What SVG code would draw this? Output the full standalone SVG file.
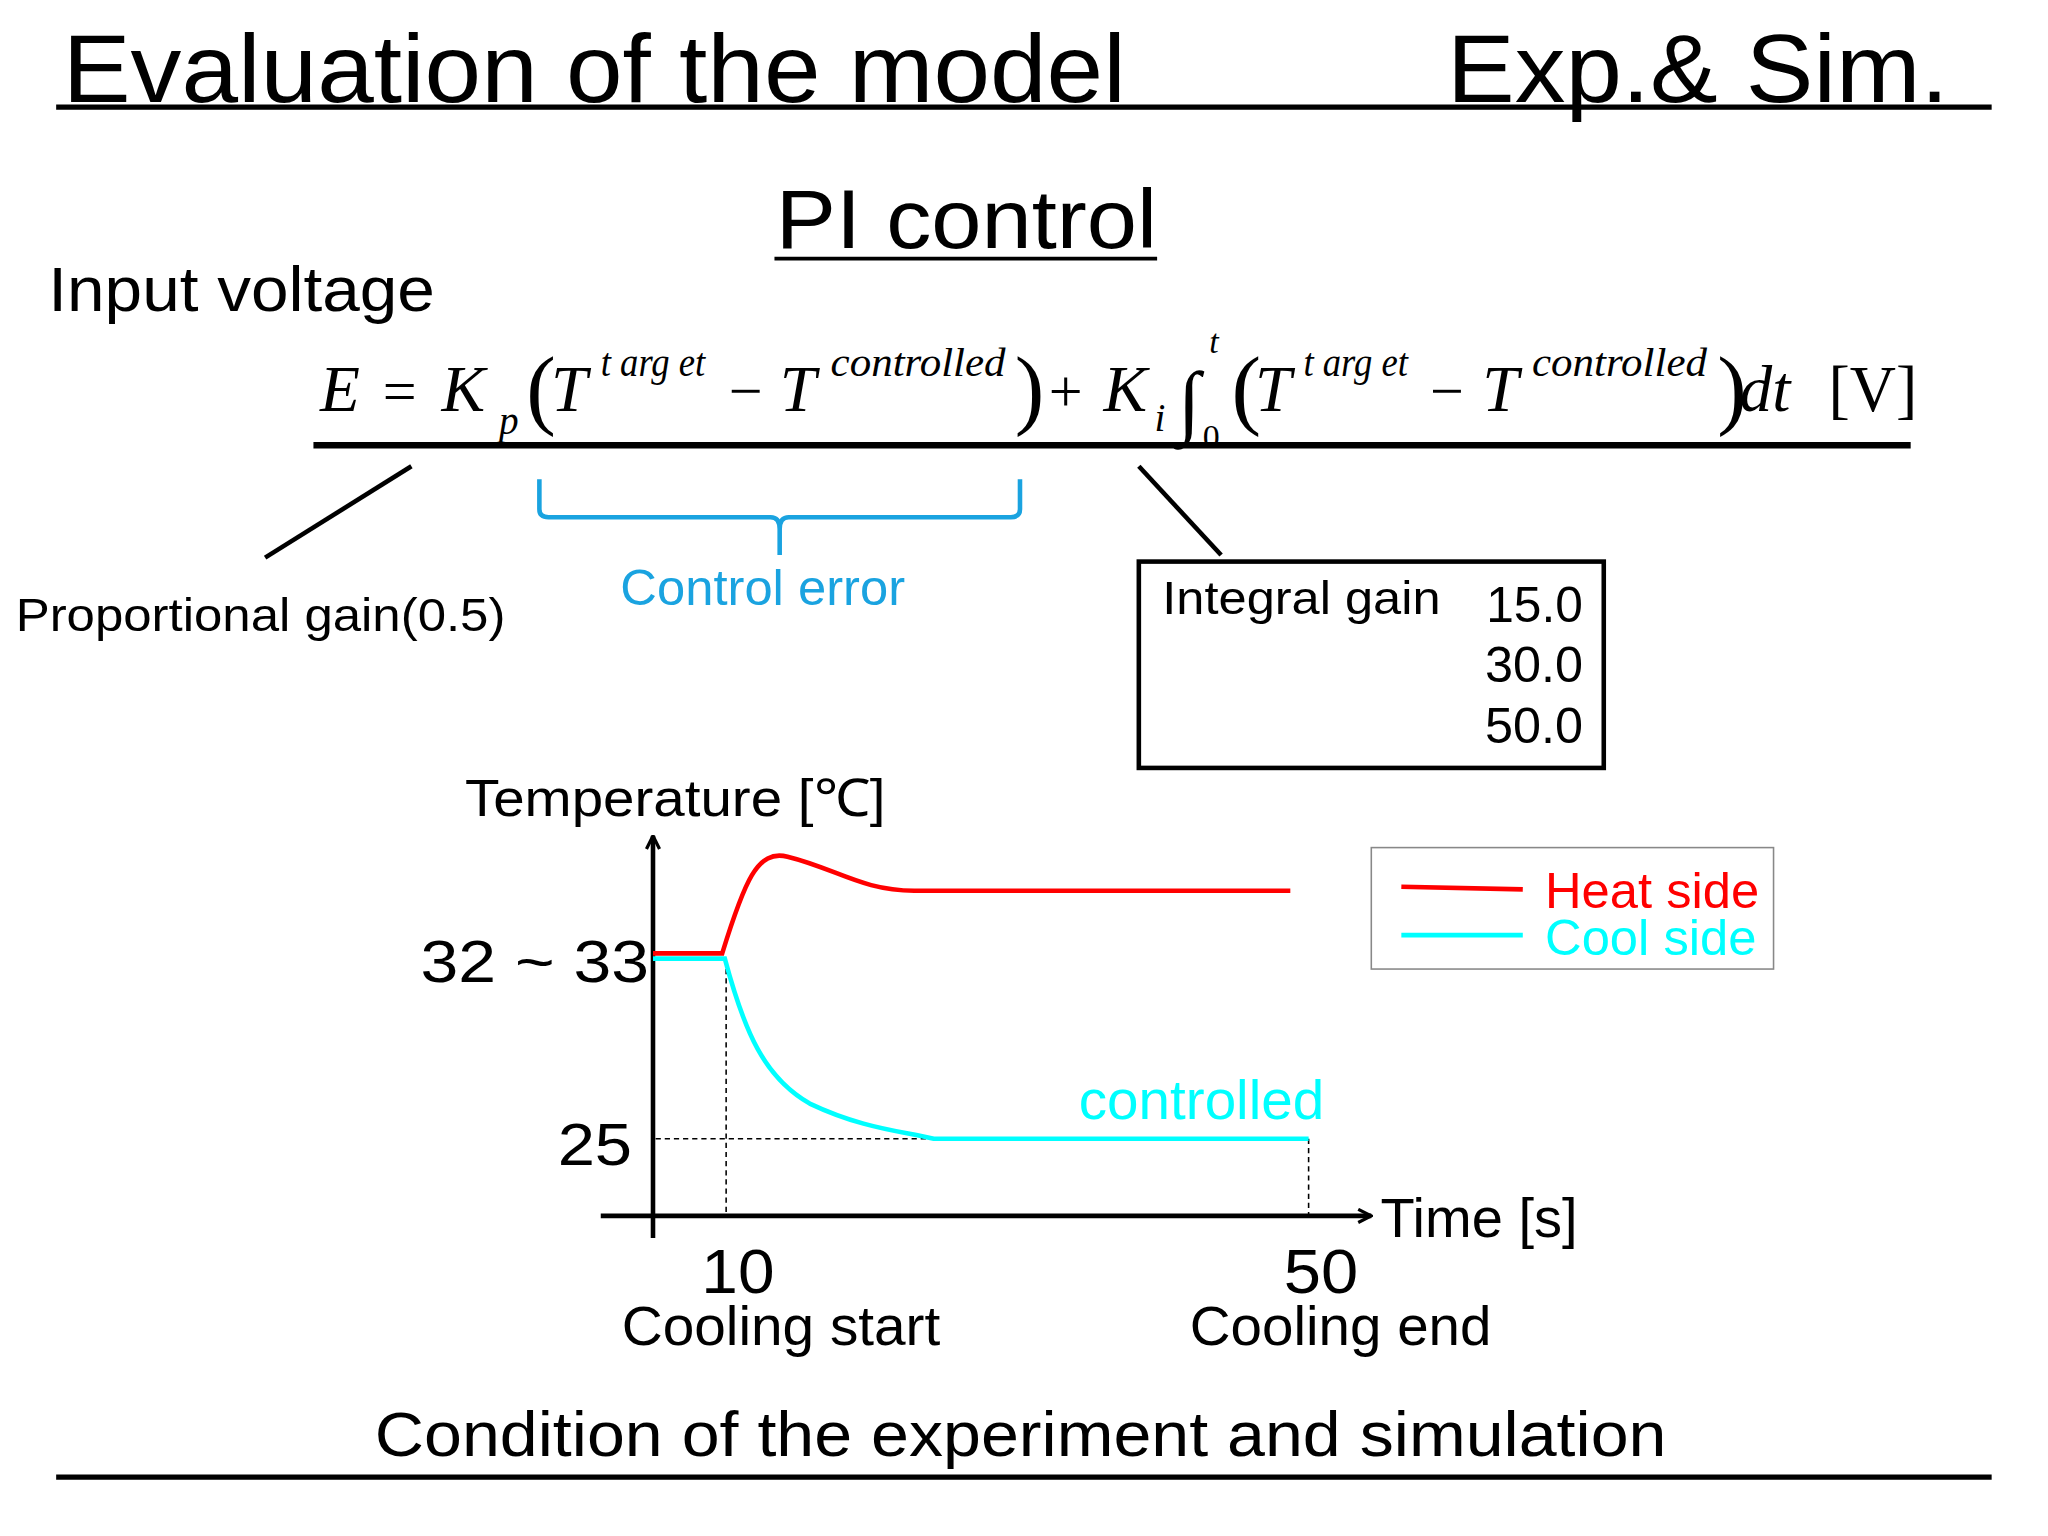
<svg xmlns="http://www.w3.org/2000/svg" width="2048" height="1536" viewBox="0 0 2048 1536">
<style>
.s{font-family:"Liberation Sans",Arial,sans-serif;fill:#000}
.m{font-family:"Liberation Serif","Times New Roman",serif;font-style:italic;fill:#000}
.u{font-family:"Liberation Serif","Times New Roman",serif;fill:#000}
.k{stroke:#000;fill:none}
</style>
<defs>
<marker id="ar" viewBox="0 0 12 12" refX="11" refY="6" markerWidth="12" markerHeight="12" markerUnits="userSpaceOnUse" orient="auto"><path d="M1,1 L11,6 L1,11" fill="none" stroke="#000" stroke-width="2.5"/></marker>
</defs>
<rect width="2048" height="1536" fill="#fff"/>
<g transform="scale(1.306)">
<g id="title">
<text class="s" x="48" y="78" font-size="74" textLength="814" lengthAdjust="spacingAndGlyphs">Evaluation of the model</text>
<text class="s" x="1108" y="78" font-size="74" textLength="384" lengthAdjust="spacingAndGlyphs">Exp.&amp; Sim.</text>
<line class="k" x1="43" y1="82" x2="1525" y2="82" stroke-width="4"/>
<text class="s" x="594" y="190" font-size="64" textLength="292" lengthAdjust="spacingAndGlyphs">PI control</text>
<line class="k" x1="593" y1="198" x2="886" y2="198" stroke-width="3"/>
<text class="s" x="37" y="238" font-size="48" textLength="296" lengthAdjust="spacingAndGlyphs">Input voltage</text>
</g>
<g id="equation">
<text class="m" x="245" y="315" font-size="50">E</text>
<text class="u" x="293" y="315" font-size="46">=</text>
<text class="m" x="338" y="315" font-size="50">K</text>
<text class="m" x="382" y="332" font-size="30">p</text>
<text class="u" x="403" y="320" font-size="68">(</text>
<text class="m" x="422" y="315" font-size="50">T</text>
<text class="m" x="460" y="288" font-size="30" textLength="80" lengthAdjust="spacingAndGlyphs">t arg et</text>
<text class="u" x="558" y="315" font-size="46">−</text>
<text class="m" x="597" y="315" font-size="50">T</text>
<text class="m" x="636" y="288" font-size="30" textLength="134" lengthAdjust="spacingAndGlyphs">controlled</text>
<text class="u" x="777" y="320" font-size="68">)</text>
<text class="u" x="803" y="315" font-size="46">+</text>
<text class="m" x="845" y="315" font-size="50">K</text>
<text class="m" x="884" y="330" font-size="30">i</text>
<text class="m" x="902" y="328" font-size="62">∫</text>
<text class="m" x="926" y="270" font-size="26">t</text>
<text class="u" x="921" y="343" font-size="26">0</text>
<text class="u" x="943" y="320" font-size="68">(</text>
<text class="m" x="961" y="315" font-size="50">T</text>
<text class="m" x="998" y="288" font-size="30" textLength="80" lengthAdjust="spacingAndGlyphs">t arg et</text>
<text class="u" x="1095" y="315" font-size="46">−</text>
<text class="m" x="1135" y="315" font-size="50">T</text>
<text class="m" x="1173" y="288" font-size="30" textLength="134" lengthAdjust="spacingAndGlyphs">controlled</text>
<text class="u" x="1315" y="320" font-size="68">)</text>
<text class="m" x="1332" y="315" font-size="50">dt</text>
<text class="u" x="1400" y="315" font-size="50" textLength="68" lengthAdjust="spacingAndGlyphs">[V]</text>
<line class="k" x1="240" y1="341" x2="1463" y2="341" stroke-width="5"/>
</g>
<g id="connectors">
<line class="k" x1="315" y1="357" x2="203" y2="427" stroke-width="3.5"/>
<line class="k" x1="872" y1="357" x2="935" y2="425" stroke-width="3.5"/>
<path d="M413,367 V390 Q413,396 420,396 H590 Q597,396 597,405 V425 M597,405 Q597,396 604,396 H774 Q781,396 781,390 V367" fill="none" stroke="#1AA3E0" stroke-width="3.5"/>
</g>
<g id="labels">
<text class="s" x="12" y="483" font-size="36" textLength="375" lengthAdjust="spacingAndGlyphs">Proportional gain(0.5)</text>
<text class="s" x="475" y="463" font-size="38" textLength="218" lengthAdjust="spacingAndGlyphs" style="fill:#1AA3E0">Control error</text>
</g>
<g id="integral-box">
<rect x="872" y="430" width="356" height="158" fill="none" stroke="#000" stroke-width="3.5"/>
<text class="s" x="890" y="470" font-size="36" textLength="213" lengthAdjust="spacingAndGlyphs">Integral gain</text>
<text class="s" x="1138" y="476" font-size="38" textLength="74" lengthAdjust="spacingAndGlyphs">15.0</text>
<text class="s" x="1137" y="522" font-size="38" textLength="75" lengthAdjust="spacingAndGlyphs">30.0</text>
<text class="s" x="1137" y="569" font-size="38" textLength="75" lengthAdjust="spacingAndGlyphs">50.0</text>
</g>
<g id="chart">
<text class="s" x="356" y="625" font-size="40" textLength="322" lengthAdjust="spacingAndGlyphs">Temperature [<tspan class="u">℃</tspan>]</text>
<line class="k" x1="500" y1="948" x2="500" y2="640" stroke-width="3.5" marker-end="url(#ar)"/>
<line class="k" x1="460" y1="931" x2="1050" y2="931" stroke-width="3.5" marker-end="url(#ar)"/>
<g stroke="#000" stroke-width="1.2" stroke-dasharray="4,3" fill="none">
<line x1="556" y1="735" x2="556" y2="931"/>
<line x1="502" y1="872" x2="715" y2="872"/>
<line x1="1002" y1="872" x2="1002" y2="931"/>
</g>
<path d="M500,730 H553 C570,675 580,650 603,656 C640,665 660,682 700,682 H988" fill="none" stroke="#f00" stroke-width="3.5"/>
<path d="M500,734 H555 C570,790 585,825 620,845 C660,864 690,866 715,872 H1002" fill="none" stroke="#0ff" stroke-width="3.5"/>
<text class="s" x="322" y="752" font-size="46" textLength="175" lengthAdjust="spacingAndGlyphs">32 ~ 33</text>
<text class="s" x="427" y="892" font-size="46" textLength="57" lengthAdjust="spacingAndGlyphs">25</text>
<text class="s" x="826" y="857" font-size="42" textLength="188" lengthAdjust="spacingAndGlyphs" style="fill:#0ff">controlled</text>
<text class="s" x="1057" y="947" font-size="42" textLength="151" lengthAdjust="spacingAndGlyphs">Time [s]</text>
<text class="s" x="537" y="990" font-size="48" textLength="56" lengthAdjust="spacingAndGlyphs">10</text>
<text class="s" x="476" y="1030" font-size="42" textLength="244" lengthAdjust="spacingAndGlyphs">Cooling start</text>
<text class="s" x="983" y="990" font-size="48" textLength="57" lengthAdjust="spacingAndGlyphs">50</text>
<text class="s" x="911" y="1030" font-size="42" textLength="231" lengthAdjust="spacingAndGlyphs">Cooling end</text>
</g>
<g id="legend">
<rect x="1050" y="649" width="308" height="93" fill="none" stroke="#888" stroke-width="1.2"/>
<line x1="1073" y1="679" x2="1166" y2="681" stroke="#f00" stroke-width="3.5"/>
<text class="s" x="1183" y="695" font-size="38" textLength="164" lengthAdjust="spacingAndGlyphs" style="fill:#f00">Heat side</text>
<line x1="1073" y1="716" x2="1166" y2="716" stroke="#0ff" stroke-width="3.5"/>
<text class="s" x="1183" y="731" font-size="38" textLength="162" lengthAdjust="spacingAndGlyphs" style="fill:#0ff">Cool side</text>
</g>
<g id="footer">
<text class="s" x="287" y="1115" font-size="48" textLength="989" lengthAdjust="spacingAndGlyphs">Condition of the experiment and simulation</text>
<line class="k" x1="43" y1="1131" x2="1525" y2="1131" stroke-width="4"/>
</g>
</g>
</svg>
